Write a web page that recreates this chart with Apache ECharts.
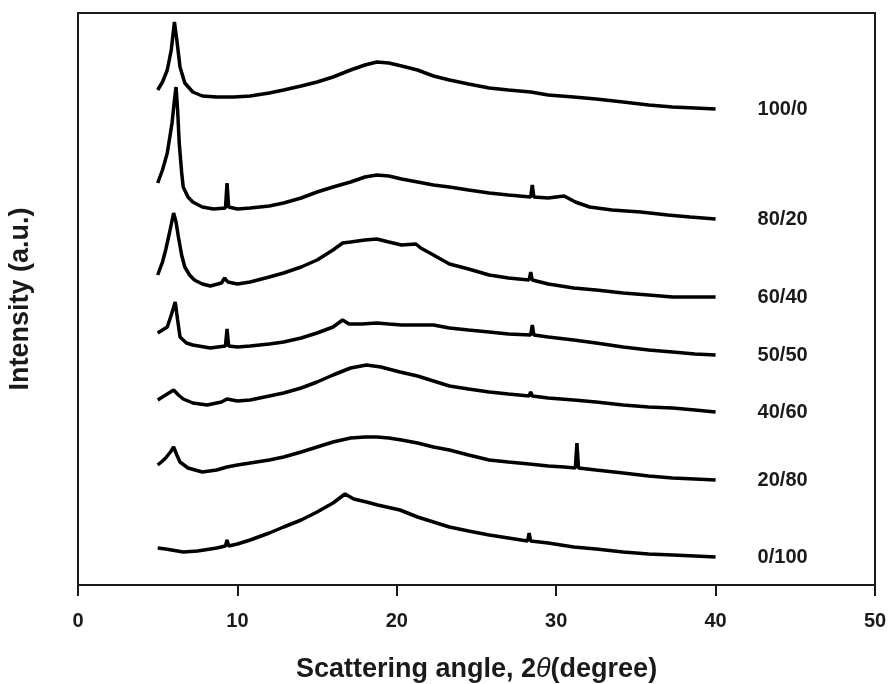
<!DOCTYPE html>
<html>
<head>
<meta charset="utf-8">
<script src="https://cdn.jsdelivr.net/npm/echarts@6/dist/echarts.min.js"></script>
<style>
html,body{margin:0;padding:0;background:#fff;}
#chart{width:889px;height:684px;}
</style>
</head>
<body>
<div id="chart"></div>
<script>
// Sample names (blend ratios)
var seriesNames = ['100/0', '80/20', '60/40', '50/50', '40/60', '20/80', '0/100'];

// X-axis ticks
var xTicks = [0, 10, 20, 30, 40, 50];

// Each curve: [2θ (degree), intensity (a.u., offset-stacked)]
var s100_0 = [[5.0,495],[5.3,503],[5.6,515],[5.85,535],[6.05,563],[6.2,545],[6.4,518],[6.7,502],[7.2,493],[7.8,489],[8.7,488],[9.8,488],[10.8,489],[12.0,492],[12.9,495],[14.0,499],[15.0,503],[16.0,508],[17.1,515],[18.0,520],[18.75,523],[19.5,522],[20.3,519],[21.3,515],[22.3,509],[23.3,505],[24.5,501],[25.8,497],[27.0,495],[28.4,493],[29.5,490],[31.1,488],[32.5,486],[34.2,483],[35.8,480],[37.3,478],[38.7,477],[40.0,476]];

var s80_20 = [[5.0,402],[5.3,415],[5.6,432],[5.9,462],[6.05,485],[6.15,498],[6.25,475],[6.35,442],[6.5,413],[6.6,398],[6.9,388],[7.2,383],[7.8,378],[8.5,376],[9.25,377],[9.35,402],[9.45,378],[10.0,376],[10.8,377],[12.0,379],[12.9,382],[14.0,387],[15.0,393],[16.0,398],[17.1,403],[18.0,408],[18.75,410],[19.5,409],[20.3,406],[21.3,403],[22.3,400],[23.3,398],[24.5,395],[25.8,392],[27.0,390],[28.4,388],[28.5,400],[28.6,388],[29.5,387],[30.5,389],[31.2,383],[32.1,378],[33.5,375],[35.3,373],[37.0,370],[38.4,368],[40.0,366]];

var s60_40 = [[5.0,310],[5.3,323],[5.5,335],[5.75,353],[6.0,372],[6.15,363],[6.3,348],[6.5,330],[6.7,318],[7.0,310],[7.3,305],[7.8,301],[8.3,299],[9.0,302],[9.2,307],[9.4,303],[10.0,301],[10.8,303],[12.0,308],[12.9,312],[14.0,318],[15.0,325],[16.0,335],[16.6,342],[17.1,343],[18.0,345],[18.75,346],[19.5,343],[20.3,340],[21.2,341],[21.5,337],[22.3,330],[23.3,321],[24.5,316],[25.8,310],[27.0,307],[28.3,305],[28.4,313],[28.5,305],[29.5,301],[31.1,297],[32.5,295],[34.2,292],[35.8,290],[37.3,288],[38.7,288],[40.0,288]];

var s50_50 = [[5.0,252],[5.3,255],[5.6,258],[5.85,270],[6.1,283],[6.25,265],[6.4,248],[6.8,242],[7.2,240],[8.3,237],[9.25,239],[9.35,256],[9.45,239],[10.0,238],[10.8,239],[12.0,241],[12.9,243],[14.0,247],[15.0,252],[16.0,258],[16.6,265],[17.0,261],[17.8,261],[18.75,262],[19.5,261],[20.3,260],[21.3,260],[22.3,260],[23.3,257],[24.5,255],[25.8,253],[27.0,251],[28.4,250],[28.5,260],[28.6,250],[29.5,248],[31.1,245],[32.5,242],[34.2,238],[35.8,235],[37.3,233],[38.7,231],[40.0,230]];

var s40_60 = [[5.0,185],[5.3,188],[5.6,191],[6.0,195],[6.3,190],[6.6,186],[7.2,182],[8.1,180],[9.0,183],[9.35,186],[10.0,184],[10.8,185],[12.0,189],[12.9,192],[14.0,197],[15.0,203],[16.0,210],[17.1,217],[18.1,220],[19.0,218],[20.2,213],[21.3,209],[22.3,204],[23.3,199],[24.5,196],[25.8,193],[27.0,191],[28.3,189],[28.4,193],[28.5,189],[29.5,187],[31.1,185],[32.5,183],[34.2,180],[35.8,178],[37.3,177],[38.7,175],[40.0,173]];

var s20_80 = [[5.0,120],[5.3,124],[5.5,127],[5.8,133],[6.0,138],[6.2,130],[6.4,123],[6.9,117],[7.8,113],[8.7,115],[9.35,118],[10.0,120],[10.8,122],[12.0,125],[12.9,128],[14.0,133],[15.0,138],[16.0,143],[17.1,147],[18.0,148],[18.75,148],[19.5,147],[20.3,145],[21.3,142],[22.3,138],[23.3,135],[24.5,130],[25.8,125],[27.0,123],[28.3,121],[29.5,119],[30.5,118],[31.2,117],[31.3,142],[31.4,117],[32.5,115],[34.2,112],[35.8,109],[37.3,107],[38.7,106],[40.0,105]];

var s0_100 = [[5.0,37],[5.5,36],[6.6,33],[7.5,34],[8.7,37],[9.25,39],[9.35,45],[9.45,39],[10.0,41],[10.8,45],[12.0,52],[12.9,58],[14.0,65],[15.0,73],[16.0,82],[16.75,91],[17.3,86],[18.1,83],[18.8,80],[20.2,75],[21.3,68],[22.3,63],[23.3,58],[24.5,54],[25.8,50],[27.0,47],[28.2,44],[28.3,52],[28.4,44],[29.5,42],[31.1,38],[32.5,36],[34.2,33],[35.8,31],[37.3,30],[38.7,29],[40.0,28]];

var seriesData = [s100_0, s80_20, s60_40, s50_50, s40_60, s20_80, s0_100];

var FONT = '"Liberation Sans", Arial, sans-serif';
var INK = '#1a1a1a';

var chart = echarts.init(document.getElementById('chart'), null, {renderer: 'canvas'});

var series = seriesNames.map(function (name, i) {
  return {
    name: name,
    type: 'line',
    data: seriesData[i],
    showSymbol: false,
    symbol: 'none',
    smooth: false,
    lineStyle: {color: '#000', width: 3.5},
    endLabel: {
      show: true,
      formatter: '{a}',
      distance: 42,
      color: INK,
      fontFamily: FONT,
      fontWeight: 'bold',
      fontSize: 20
    },
    emphasis: {disabled: true},
    silent: true
  };
});

chart.setOption({
  animation: false,
  backgroundColor: '#fff',
  grid: {
    left: 78, right: 14, top: 13, bottom: 99,
    containLabel: false,
    outerBoundsMode: 'none',
    show: true, borderColor: INK, borderWidth: 2, backgroundColor: 'transparent'
  },
  xAxis: {
    type: 'value',
    min: xTicks[0],
    max: xTicks[xTicks.length - 1],
    interval: 10,
    axisLine: {show: true, lineStyle: {color: INK, width: 2}},
    axisTick: {show: true, inside: false, length: 11, lineStyle: {color: INK, width: 2}},
    axisLabel: {
      show: true, margin: 26, color: INK, fontFamily: FONT, fontWeight: 'bold', fontSize: 20
    },
    splitLine: {show: false},
    name: '{a|Scattering angle, 2}{b|θ}{a|(degree)}',
    nameLocation: 'middle',
    nameGap: 71,
    nameTextStyle: {
      rich: {
        a: {fontFamily: FONT, fontWeight: 'bold', fontSize: 27, color: INK},
        b: {fontFamily: FONT, fontStyle: 'italic', fontWeight: 'normal', fontSize: 27, color: INK}
      }
    }
  },
  yAxis: {
    type: 'value',
    min: 0,
    max: 572,
    axisLine: {show: true, lineStyle: {color: INK, width: 2}},
    axisTick: {show: false},
    axisLabel: {show: false},
    splitLine: {show: false},
    name: 'Intensity (a.u.)',
    nameLocation: 'middle',
    nameRotate: 90,
    nameGap: 44,
    nameTextStyle: {fontFamily: FONT, fontWeight: 'bold', fontSize: 27, color: INK}
  },
  series: series
});
</script>
</body>
</html>
